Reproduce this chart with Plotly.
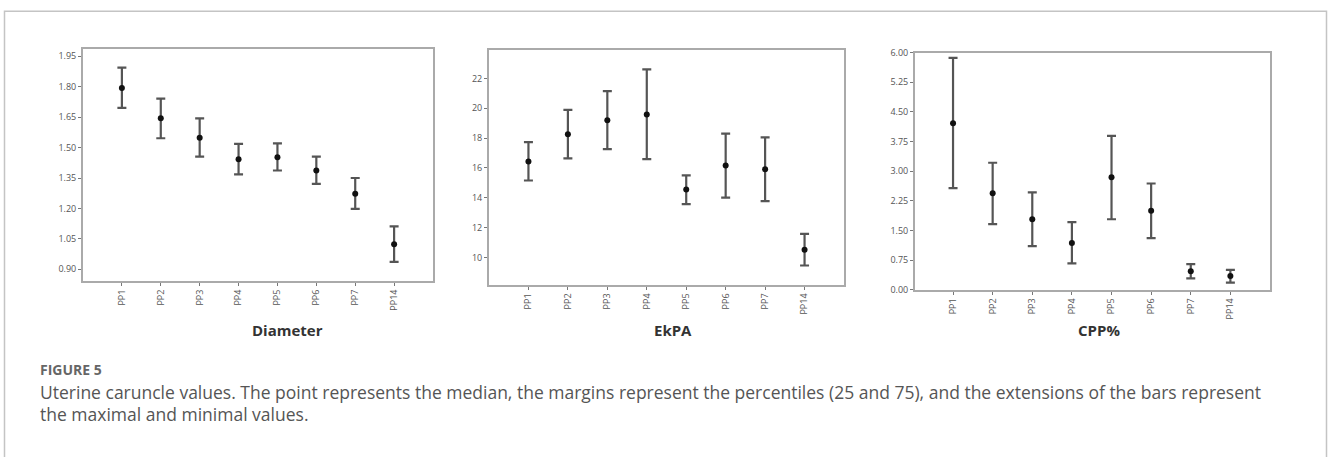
import plotly.graph_objects as go

W, H = 1328, 457

categories = ["PP1", "PP2", "PP3", "PP4", "PP5", "PP6", "PP7", "PP14"]

diam_median = [1.794, 1.644, 1.549, 1.443, 1.452, 1.387, 1.273, 1.024]
diam_upper = [1.894, 1.741, 1.644, 1.518, 1.521, 1.455, 1.350, 1.112]
diam_lower = [1.696, 1.546, 1.455, 1.368, 1.387, 1.321, 1.198, 0.937]

ekpa_median = [16.44, 18.27, 19.20, 19.59, 14.56, 16.16, 15.92, 10.52]
ekpa_upper = [17.73, 19.90, 21.15, 22.61, 15.51, 18.31, 18.05, 11.58]
ekpa_lower = [15.16, 16.64, 17.27, 16.60, 13.58, 14.01, 13.78, 9.46]

cpp_median = [4.216, 2.441, 1.784, 1.184, 2.844, 1.997, 0.468, 0.345]
cpp_upper = [5.868, 3.214, 2.466, 1.710, 3.896, 2.688, 0.649, 0.501]
cpp_lower = [2.573, 1.660, 1.101, 0.666, 1.784, 1.307, 0.288, 0.181]

panel_titles = ["Diameter", "EkPA", "CPP%"]
diam_ticks = [0.90, 1.05, 1.20, 1.35, 1.50, 1.65, 1.80, 1.95]
ekpa_ticks = [10, 12, 14, 16, 18, 20, 22]
cpp_ticks = [0.00, 0.75, 1.50, 2.25, 3.00, 3.75, 4.50, 5.25, 6.00]

caption_label = "FIGURE 5"
caption_line1 = ("Uterine caruncle values. The point represents the median, the margins represent the "
                 "percentiles (25 and 75), and the extensions of the bars represent")
caption_line2 = "the maximal and minimal values."

# layout geometry (pixels)
boxes = [(83, 433, 43, 282), (489, 844, 44, 286), (915, 1270, 47, 291)]
yranges = [[0.8425, 1.987], [8.16, 23.93], [0.0, 6.0]]
xranges = [[-1, 8], [-1, 8], [-0.96, 8]]
title_x = [287, 673, 1099]
title_y = 332

series = [
    (diam_median, diam_upper, diam_lower, diam_ticks, "%.2f"),
    (ekpa_median, ekpa_upper, ekpa_lower, ekpa_ticks, "%d"),
    (cpp_median, cpp_upper, cpp_lower, cpp_ticks, "%.2f"),
]

fig = go.Figure()
layout = {}
for i, (med, up, lo, ticks, fmt) in enumerate(series):
    n = "" if i == 0 else str(i + 1)
    fig.add_trace(go.Scatter(
        x=categories, y=med, mode="markers",
        marker=dict(color="#111111", size=6),
        error_y=dict(type="data", symmetric=False,
                     array=[u - m for u, m in zip(up, med)],
                     arrayminus=[m - l for m, l in zip(med, lo)],
                     color="#555555", thickness=2.2, width=4.5),
        xaxis="x" + n, yaxis="y" + n, showlegend=False,
        hoverinfo="skip",
    ))
    x0, x1, y0, y1 = boxes[i]
    layout["xaxis" + n] = dict(
        domain=[x0 / W, x1 / W], anchor="y" + n,
        type="category", range=xranges[i],
        showline=True, linecolor="#aaaaaa", linewidth=2, mirror=True,
        showgrid=False, zeroline=False,
        ticks="outside", ticklen=3, tickcolor="#777777",
        tickangle=-90, tickfont=dict(family="Open Sans", size=9, color="#555555"),
    )
    layout["yaxis" + n] = dict(
        domain=[1 - y1 / H, 1 - y0 / H], anchor="x" + n,
        range=yranges[i],
        tickvals=ticks, ticktext=[fmt % t for t in ticks],
        showline=True, linecolor="#aaaaaa", linewidth=2, mirror=True,
        showgrid=False, zeroline=False,
        ticks="outside", ticklen=3, tickcolor="#777777",
        tickfont=dict(family="Open Sans", size=9, color="#555555"),
    )

annotations = []
for t, x in zip(panel_titles, title_x):
    annotations.append(dict(
        text="<b>" + t + "</b>", x=x / W, y=1 - title_y / H, xref="paper", yref="paper",
        xanchor="center", yanchor="middle", showarrow=False,
        font=dict(family="Open Sans", size=15, color="#333333"),
    ))
annotations.append(dict(
    text="<b>" + caption_label + "</b>", x=38 / W, y=1 - 373 / H, xref="paper", yref="paper",
    xanchor="left", yanchor="middle", showarrow=False,
    font=dict(family="Open Sans", size=14, color="#666666"),
))
annotations.append(dict(
    text=caption_line1, x=38 / W, y=1 - 396 / H, xref="paper", yref="paper",
    xanchor="left", yanchor="middle", showarrow=False,
    font=dict(family="Open Sans", size=17.5, color="#555555"),
))
annotations.append(dict(
    text=caption_line2, x=38 / W, y=1 - 419 / H, xref="paper", yref="paper",
    xanchor="left", yanchor="middle", showarrow=False,
    font=dict(family="Open Sans", size=17.5, color="#555555"),
))

shapes = [dict(type="rect", xref="paper", yref="paper",
               x0=4.5 / W, x1=1326.5 / W, y0=-0.1, y1=1 - 4.5 / H,
               line=dict(color="#c4c4c4", width=1.5), fillcolor="rgba(0,0,0,0)")]

fig.update_layout(
    width=W, height=H,
    margin=dict(l=0, r=0, t=0, b=0),
    paper_bgcolor="white", plot_bgcolor="white",
    annotations=annotations, shapes=shapes,
    **layout,
)

fig.write_html("out.html", config={"displayModeBar": False},
               post_script="document.body.style.margin='0';document.body.style.overflow='hidden';")
